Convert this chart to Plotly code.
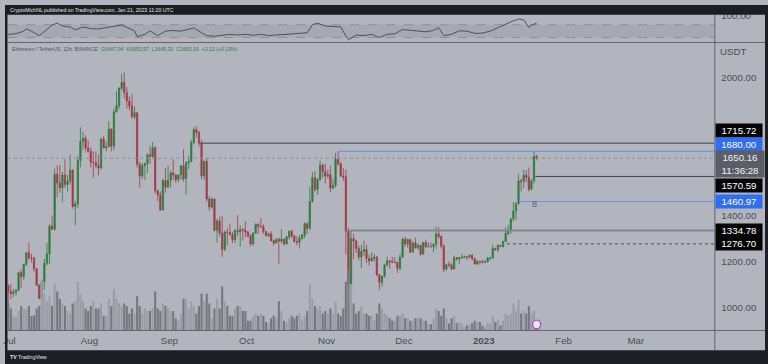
import plotly.graph_objects as go
import pandas as pd

# ---------------- data ----------------
first_date = "2022-06-30 12:00"   # daily candles, centred at noon
first_open = 1095

close_jul = [1068, 1060, 1067, 1075, 1151, 1134, 1187, 1238, 1216, 1215, 1168, 1097, 1039, 1112, 1192, 1233,
             1355, 1340, 1580, 1542, 1521, 1577, 1536, 1551, 1598, 1440, 1451, 1640, 1724, 1737, 1695, 1680]
high_jul = [1100, 1100, 1080, 1080, 1155, 1165, 1190, 1241, 1282, 1233, 1220, 1170, 1100, 1115, 1210, 1280,
            1362, 1400, 1605, 1620, 1620, 1590, 1645, 1577, 1665, 1602, 1465, 1660, 1785, 1765, 1750, 1728]
low_jul = [1000, 1035, 1045, 1050, 1070, 1085, 1120, 1180, 1205, 1195, 1155, 1092, 1035, 1007, 1075, 1181,
           1190, 1338, 1335, 1480, 1500, 1460, 1520, 1505, 1535, 1430, 1357, 1432, 1610, 1685, 1680, 1675]

close_aug = [1632, 1632, 1619, 1608, 1734, 1695, 1700, 1777, 1702, 1852, 1879, 1955, 1981, 1936, 1900, 1878,
             1831, 1848, 1624, 1572, 1618, 1627, 1665, 1658, 1696, 1508, 1491, 1425, 1553, 1524, 1554]
high_aug = [1698, 1680, 1680, 1665, 1740, 1748, 1722, 1812, 1780, 1866, 1942, 1960, 2017, 2025, 1960, 1920,
            1930, 1875, 1850, 1635, 1630, 1630, 1672, 1705, 1720, 1703, 1513, 1505, 1560, 1605, 1618]
low_aug = [1610, 1565, 1605, 1575, 1600, 1692, 1680, 1700, 1680, 1685, 1850, 1865, 1945, 1910, 1867, 1860,
           1822, 1820, 1610, 1521, 1560, 1555, 1585, 1625, 1650, 1497, 1463, 1420, 1422, 1500, 1520]

close_sep = [1586, 1577, 1557, 1577, 1617, 1561, 1630, 1636, 1718, 1775, 1762, 1716, 1573, 1636, 1472, 1437,
             1472, 1336, 1377, 1324, 1253, 1328, 1327, 1317, 1295, 1335, 1330, 1339, 1336, 1328]
high_sep = [1596, 1645, 1580, 1580, 1618, 1690, 1638, 1660, 1730, 1785, 1790, 1770, 1730, 1640, 1650, 1485,
            1480, 1475, 1385, 1395, 1398, 1335, 1345, 1365, 1330, 1342, 1402, 1356, 1345, 1376]
low_sep = [1523, 1555, 1543, 1545, 1555, 1548, 1490, 1602, 1633, 1710, 1740, 1700, 1558, 1555, 1460, 1421,
           1430, 1330, 1283, 1310, 1220, 1245, 1271, 1313, 1280, 1280, 1310, 1265, 1292, 1306]

close_oct = [1311, 1276, 1323, 1362, 1352, 1352, 1330, 1313, 1320, 1290, 1280, 1296, 1289, 1297, 1276, 1307,
             1331, 1311, 1287, 1284, 1300, 1315, 1364, 1345, 1460, 1565, 1514, 1556, 1620, 1591, 1572]
high_oct = [1333, 1320, 1328, 1366, 1365, 1389, 1362, 1333, 1325, 1332, 1295, 1300, 1305, 1340, 1300, 1312,
            1335, 1340, 1315, 1310, 1315, 1320, 1370, 1372, 1525, 1590, 1595, 1565, 1640, 1625, 1626]
low_oct = [1304, 1265, 1270, 1320, 1321, 1346, 1320, 1308, 1305, 1287, 1269, 1280, 1190, 1280, 1270, 1275,
           1295, 1300, 1281, 1271, 1256, 1295, 1301, 1320, 1337, 1458, 1505, 1491, 1552, 1564, 1540]

close_nov = [1578, 1520, 1532, 1645, 1626, 1573, 1568, 1333, 1100, 1299, 1289, 1256, 1219, 1243, 1252, 1213,
             1202, 1213, 1219, 1142, 1109, 1135, 1184, 1203, 1199, 1195, 1195, 1170, 1219, 1297]
high_nov = [1600, 1617, 1560, 1673, 1680, 1634, 1607, 1601, 1346, 1335, 1319, 1292, 1268, 1273, 1290, 1272,
            1230, 1240, 1232, 1223, 1145, 1138, 1190, 1220, 1207, 1220, 1218, 1199, 1233, 1304]
low_nov = [1561, 1502, 1515, 1522, 1618, 1568, 1550, 1230, 1073, 1098, 1210, 1237, 1206, 1170, 1225, 1193,
           1182, 1200, 1200, 1135, 1075, 1090, 1130, 1178, 1168, 1193, 1192, 1150, 1160, 1215]

close_dec = [1276, 1295, 1240, 1280, 1260, 1270, 1232, 1282, 1264, 1265, 1264, 1275, 1320, 1309, 1266, 1166,
             1186, 1185, 1167, 1216, 1211, 1217, 1218, 1220, 1219, 1226, 1212, 1189, 1201, 1199, 1196]
high_dec = [1308, 1300, 1298, 1288, 1304, 1278, 1273, 1285, 1295, 1283, 1282, 1278, 1352, 1348, 1315, 1276,
            1190, 1200, 1192, 1225, 1219, 1219, 1232, 1225, 1223, 1231, 1234, 1214, 1205, 1202, 1208]
low_dec = [1265, 1260, 1237, 1240, 1255, 1250, 1224, 1230, 1260, 1262, 1261, 1240, 1255, 1300, 1256, 1153,
           1160, 1175, 1162, 1165, 1203, 1190, 1210, 1216, 1205, 1213, 1205, 1186, 1185, 1185, 1192]

close_jan = [1200, 1214, 1215, 1256, 1251, 1270, 1265, 1287, 1322, 1336, 1385, 1420, 1451, 1551, 1550, 1576,
             1567, 1515, 1552, 1658, 1650.16]
high_jan = [1204, 1220, 1220, 1273, 1260, 1275, 1273, 1290, 1349, 1360, 1390, 1460, 1460, 1582, 1560, 1600,
            1598, 1610, 1560, 1677, 1665]
low_jan = [1192, 1194, 1205, 1212, 1248, 1240, 1263, 1260, 1285, 1315, 1320, 1374, 1380, 1450, 1505, 1520,
           1545, 1505, 1510, 1540, 1640]

vol_jul = [1100, 900, 600, 560, 800, 1000, 900, 880, 1000, 600, 620, 900, 1000, 2100, 1500, 1200, 1400, 1000,
           1900, 1600, 1300, 1100, 1000, 800, 700, 1100, 1200, 2000, 1500, 1200, 900, 800]
vol_aug = [1000, 1200, 900, 900, 1100, 600, 600, 1300, 1000, 1700, 1300, 1100, 1000, 1100, 1000, 700, 900,
           700, 1400, 1000, 700, 900, 800, 800, 900, 1600, 900, 800, 1100, 1000, 900]
vol_sep = [800, 800, 500, 400, 700, 1300, 1300, 900, 1200, 1000, 700, 1000, 1500, 1200, 1500, 1100, 500, 900,
           1300, 900, 1800, 1200, 1000, 600, 600, 900, 1000, 1000, 800, 800]
vol_oct = [400, 400, 600, 700, 600, 700, 600, 350, 300, 500, 600, 500, 1200, 800, 400, 350, 500, 600, 500,
           600, 700, 400, 600, 800, 1900, 1300, 1000, 900, 1000, 700, 800]
vol_nov = [700, 900, 700, 1200, 700, 600, 900, 2000, 2500, 1900, 1100, 700, 800, 1000, 700, 700, 600, 600,
           400, 700, 1100, 900, 700, 600, 500, 400, 400, 600, 600, 700]
vol_dec = [500, 500, 400, 400, 500, 500, 500, 400, 400, 250, 250, 500, 900, 800, 600, 900, 500, 300, 500,
           600, 300, 350, 300, 150, 200, 250, 300, 400, 350, 350, 200]
vol_jan = [150, 300, 300, 600, 350, 450, 200, 400, 700, 600, 700, 1100, 800, 1250, 700, 800, 700, 1000, 700,
           800, 400]

# oscillator in the top pane
rsi_dates = ["2022-06-30", "2022-07-03", "2022-07-06", "2022-07-07", "2022-07-09", "2022-07-12", "2022-07-15",
             "2022-07-17", "2022-07-19", "2022-07-21", "2022-07-24", "2022-07-26", "2022-07-29", "2022-08-01",
             "2022-08-04", "2022-08-07", "2022-08-10", "2022-08-13", "2022-08-16", "2022-08-18", "2022-08-19",
             "2022-08-22", "2022-08-24", "2022-08-27", "2022-08-30", "2022-09-02", "2022-09-05", "2022-09-08",
             "2022-09-10", "2022-09-13", "2022-09-15", "2022-09-18", "2022-09-21", "2022-09-24", "2022-09-27",
             "2022-09-30", "2022-10-03", "2022-10-06", "2022-10-09", "2022-10-12", "2022-10-15", "2022-10-18",
             "2022-10-21", "2022-10-24", "2022-10-26", "2022-10-28", "2022-10-31", "2022-11-03", "2022-11-06",
             "2022-11-08", "2022-11-09", "2022-11-12", "2022-11-15", "2022-11-18", "2022-11-21", "2022-11-24",
             "2022-11-27", "2022-11-30", "2022-12-03", "2022-12-06", "2022-12-09", "2022-12-12", "2022-12-14",
             "2022-12-16", "2022-12-19", "2022-12-22", "2022-12-25", "2022-12-28", "2022-12-31", "2023-01-03",
             "2023-01-06", "2023-01-08", "2023-01-10", "2023-01-12", "2023-01-14", "2023-01-16", "2023-01-18",
             "2023-01-19", "2023-01-21"]
rsi_values = [40, 42, 50, 57, 50, 36, 55, 69, 75, 66, 63, 54, 63, 58, 57, 60, 65, 69, 58, 51, 33, 40, 51, 36,
              50, 52, 50, 55, 60, 45, 36, 34, 36, 40, 38, 40, 37, 40, 36, 38, 40, 41, 42, 45, 70, 75, 66, 64,
              63, 35, 23, 38, 36, 40, 30, 40, 42, 55, 52, 50, 48, 52, 61, 36, 40, 51, 50, 43, 44, 50, 60, 66,
              75, 82, 88, 85, 62, 68, 75]

# horizontal levels drawn on the chart: (price, start date, style)
levels = [
    (1715.72, "2022-09-13 00:00", "black"),
    (1680.00, "2022-11-05 12:00", "blue"),
    (1570.59, "2023-01-21 00:00", "black"),
    (1460.97, "2023-01-14 12:00", "blue"),
    (1334.78, "2022-11-10 00:00", "grey"),
    (1276.70, "2023-01-10 00:00", "dashed"),
]
last_price = 1650.16
countdown = "11:36:28"
alert_mark = ("2023-01-20 21:00", 1452)
event_date = "2023-01-21 12:00"

month_ticks = ["2022-07-01", "2022-08-01", "2022-09-01", "2022-10-01", "2022-11-01", "2022-12-01",
               "2023-01-01", "2023-02-01", "2023-03-01"]
month_text = ["Jul", "Aug", "Sep", "Oct", "Nov", "Dec", "<b>2023</b>", "Feb", "Mar"]
price_ticks = [1000, 1200, 1400, 2000]   # 1600 / 1800 sit under the price badges

# ---------------- assemble ----------------
close = close_jul + close_aug + close_sep + close_oct + close_nov + close_dec + close_jan
high = high_jul + high_aug + high_sep + high_oct + high_nov + high_dec + high_jan
low = low_jul + low_aug + low_sep + low_oct + low_nov + low_dec + low_jan
volume = vol_jul + vol_aug + vol_sep + vol_oct + vol_nov + vol_dec + vol_jan
opens = [first_open] + close[:-1]
dates = pd.date_range(first_date, periods=len(close), freq="D")

W, H = 768, 364
def px(x):
    return x / W
def py(y):
    return 1 - y / H

BG = "#b2b5be"
DARK = "#1c1e24"
AXC = "#4b4e56"
SEP = "#62656d"
FONT = "Liberation Sans"
X_RANGE = ["2022-06-30 09:20", "2023-03-31 11:30"]

up_col, dn_col = "#2e7b3b", "#a13a46"
vol_colors = ["#9b9da6" if c >= o else "#75777f" for o, c in zip(opens, close)]

fig = go.Figure()

fig.add_trace(go.Bar(x=dates, y=volume, marker=dict(color=vol_colors, line=dict(width=0)),
                     xaxis="x", yaxis="y3", hoverinfo="skip", showlegend=False))

fig.add_trace(go.Candlestick(
    x=dates, open=opens, high=high, low=low, close=close,
    increasing=dict(line=dict(color=up_col, width=0.8), fillcolor=up_col),
    decreasing=dict(line=dict(color=dn_col, width=0.8), fillcolor=dn_col),
    whiskerwidth=0, xaxis="x", yaxis="y", hoverinfo="skip", showlegend=False))

fig.add_trace(go.Scatter(x=pd.to_datetime(rsi_dates) + pd.Timedelta(hours=12), y=rsi_values, mode="lines",
                         line=dict(color="#50525a", width=1), xaxis="x2", yaxis="y2",
                         hoverinfo="skip", showlegend=False))

shapes = []
# oscillator band
shapes.append(dict(type="rect", xref="paper", yref="y2", x0=px(3), x1=px(714), y0=30, y1=70,
                   fillcolor="#a6a9b1", line=dict(width=0), layer="below"))
for lv in (30, 70):
    shapes.append(dict(type="line", xref="paper", yref="y2", x0=px(3), x1=px(714), y0=lv, y1=lv,
                       line=dict(color="#8d9098", width=1, dash="dash"), layer="below"))

# level lines
style_map = {
    "black": dict(color="#43454b", width=1),
    "blue": dict(color="#6b8ee8", width=1),
    "grey": dict(color="#83868d", width=2),
    "dashed": dict(color="#4a4c52", width=1, dash="dot"),
}
for price, start, style in levels:
    shapes.append(dict(type="line", xref="x", yref="y", x0=start, x1=X_RANGE[1], y0=price, y1=price,
                       line=style_map[style]))
# current price line
shapes.append(dict(type="line", xref="x", yref="y", x0=X_RANGE[0], x1=X_RANGE[1], y0=last_price, y1=last_price,
                   line=dict(color="#8b8e95", width=1, dash="dot")))

# pane separators
shapes.append(dict(type="line", xref="paper", yref="paper", x0=0, x1=px(765), y0=py(38), y1=py(38),
                   line=dict(color=SEP, width=1), layer="above"))
shapes.append(dict(type="line", xref="paper", yref="paper", x0=0, x1=px(765), y0=py(330), y1=py(330),
                   line=dict(color=SEP, width=1), layer="above"))
shapes.append(dict(type="line", xref="paper", yref="paper", x0=px(714.5), x1=px(714.5), y0=py(350), y1=py(10),
                   line=dict(color=SEP, width=1), layer="above"))
# frame
for x0, x1, y0, y1 in [(0, W, 0, 10), (0, W, 350, H), (0, 2.5, 0, H), (765, W, 0, H)]:
    shapes.append(dict(type="rect", xref="paper", yref="paper", x0=px(x0), x1=px(x1), y0=py(y1), y1=py(y0),
                       fillcolor=DARK, line=dict(width=0), layer="above"))
# event marker on time scale
ev = pd.Timestamp(event_date)
shapes.append(dict(type="circle", xref="x", yref="paper", x0=ev - pd.Timedelta(hours=38),
                   x1=ev + pd.Timedelta(hours=38), y0=py(328.5), y1=py(319.5),
                   fillcolor="#ece6f0", line=dict(color="#b04cc8", width=1.4), layer="above"))

ann = []
ann.append(dict(text="CryptoMichNL published on TradingView.com, Jan 21, 2023 11:20 UTC", xref="paper",
                yref="paper", x=px(3), y=py(5), xanchor="left", yanchor="middle", showarrow=False,
                font=dict(family=FONT, size=5.2, color="#e6e7ea")))
ann.append(dict(text=("<span style='color:#50535c'>Ethereum / TetherUS, 12h, BINANCE</span>  "
                      "<span style='color:#2f7d3e'>O1647.04  H1653.97  L1645.31  C1650.16  +3.12 (+0.19%)</span>"),
                xref="paper", yref="paper", x=px(5), y=py(45), xanchor="left", yanchor="middle",
                showarrow=False, font=dict(family=FONT, size=5.2)))
ann.append(dict(text="USDT", xref="paper", yref="paper", x=px(718), y=py(47), xanchor="left",
                yanchor="middle", showarrow=False, font=dict(family=FONT, size=9.7, color=AXC)))
ann.append(dict(text="<b>TV</b> TradingView", xref="paper", yref="paper", x=px(3), y=py(357), xanchor="left",
                yanchor="middle", showarrow=False, font=dict(family=FONT, size=5.2, color="#e6e7ea")))
ann.append(dict(text="8", xref="x", yref="y", x=alert_mark[0], y=alert_mark[1], showarrow=False,
                font=dict(family=FONT, size=9, color="#5c5f67")))

# price badges on the axis (label centres in pixels)
badge_y = {1715.72: 127.5, 1680.00: 141, 1570.59: 182.7, 1460.97: 199.3, 1334.78: 228.5, 1276.70: 242}
badge_bg = {"black": "#050505", "blue": "#2f6df4", "grey": "#050505", "dashed": "#050505"}
for price, start, style in levels:
    ann.append(dict(text=f"{price:.2f}", xref="paper", yref="paper", x=px(738.5), y=py(badge_y[price]),
                    xanchor="center", yanchor="middle", showarrow=False, width=46, height=13, borderpad=0,
                    bgcolor=badge_bg[style], font=dict(family=FONT, size=9.7, color="#ffffff")))
ann.append(dict(text=f"{last_price:.2f}<br>{countdown}", xref="paper", yref="paper", x=px(739.5), y=py(161),
                xanchor="center", yanchor="middle", showarrow=False, width=48, height=26, borderpad=0,
                bgcolor="#5b5e67", font=dict(family=FONT, size=9.7, color="#f2f2f4")))

fig.update_layout(
    width=W, height=H, margin=dict(l=0, r=0, t=0, b=0),
    paper_bgcolor=BG, plot_bgcolor=BG, hovermode=False, showlegend=False,
    font=dict(family=FONT),
    xaxis=dict(domain=[px(3), px(714)], range=X_RANGE, type="date", rangeslider=dict(visible=False),
               tickvals=month_ticks, ticktext=month_text, showgrid=False, zeroline=False, showline=False,
               ticks="", tickfont=dict(family=FONT, size=9.7, color=AXC), ticklabelstandoff=3,
               ticklabeloverflow="allow", anchor="y", fixedrange=True),
    yaxis=dict(domain=[py(330), py(38)], range=[898.9, 2154.8], side="right", tickvals=price_ticks,
               ticktext=[f"{v:.2f}" for v in price_ticks], showgrid=False, zeroline=False, showline=False,
               ticks="", tickfont=dict(family=FONT, size=9.7, color=AXC), ticklabelstandoff=6,
               anchor="x", fixedrange=True),
    yaxis3=dict(overlaying="y", range=[0, 11800], visible=False, fixedrange=True),
    xaxis2=dict(domain=[px(3), px(714)], range=X_RANGE, type="date", visible=False, anchor="y2",
                fixedrange=True),
    yaxis2=dict(domain=[py(38), py(10)], range=[14.6, 100.8], side="right", tickvals=[100],
                ticktext=["100.00"], showgrid=False, zeroline=False, showline=False, ticks="",
                tickfont=dict(family=FONT, size=9.7, color=AXC), ticklabelstandoff=6, anchor="x2",
                fixedrange=True),
    shapes=shapes, annotations=ann,
)

fig.write_html("out.html", config={"displayModeBar": False},
               post_script="document.body.style.margin='0';document.body.style.overflow='hidden';")
